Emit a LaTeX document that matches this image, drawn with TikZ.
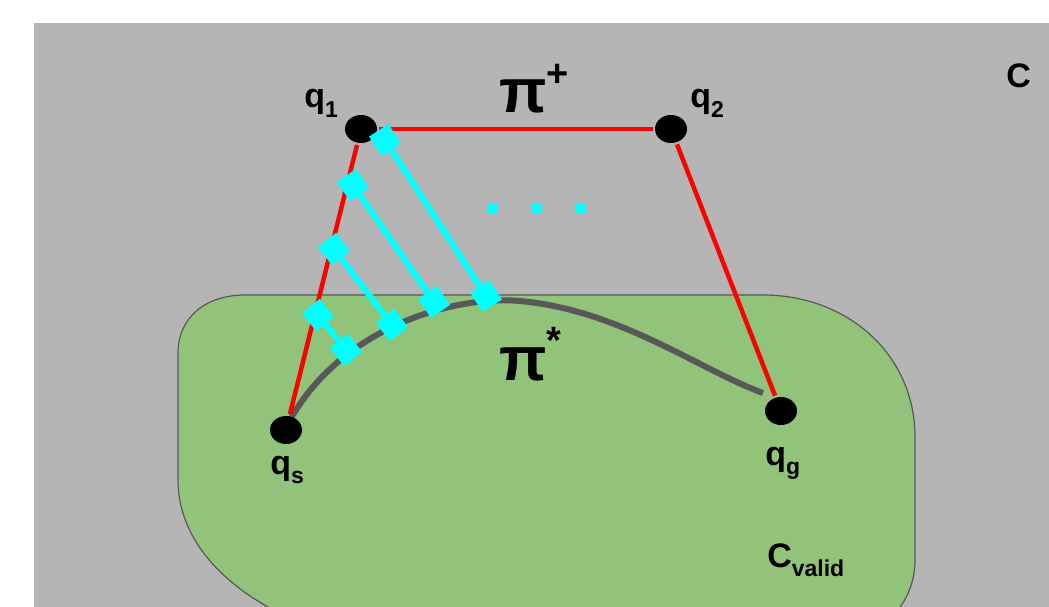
\documentclass[tikz,border=0pt]{standalone}
\usepackage{fontspec}
\setmainfont{Liberation Sans}
\usetikzlibrary{shapes.geometric}

\definecolor{bggray}{RGB}{181,181,181}
\definecolor{validgreen}{RGB}{146,195,123}
\definecolor{pathgray}{RGB}{88,88,88}
\definecolor{aqua}{RGB}{0,255,255}
\definecolor{plusred}{RGB}{255,0,0}
\newcommand{\lsub}[1]{\raisebox{-0.28em}{\fontsize{23}{23}\selectfont #1}}

\begin{document}
\begin{tikzpicture}[x=1pt,y=-1pt,line width=4.5pt,
  dot/.style={ellipse,fill=black,inner sep=0pt,minimum width=32pt,minimum height=28pt},
  sq/.style={rectangle,fill=aqua,inner sep=0pt,minimum size=23pt},
  link/.style={aqua,line width=6pt},
  lbl/.style={anchor=base west,inner sep=0pt,font=\bfseries\fontsize{34}{34}\selectfont},
  pilbl/.style={anchor=base west,inner sep=0pt,font=\bfseries\fontsize{62}{62}\selectfont}]
  \fill[white] (0,0) rectangle (1049,607);
  \useasboundingbox (0,0) rectangle (1049,607);
  \fill[bggray] (34,23) rectangle (1049,607);
  % valid region
  \begin{scope}
    \clip (34,23) rectangle (1049,607);
    \draw[fill=validgreen,draw=pathgray,line width=1.2pt] (178,353) .. controls (178,318) and (205,295) .. (245,295)
      -- (763,295) .. controls (848,295) and (915,355) .. (915,437) -- (915,560)
      .. controls (915,585) and (905,605) .. (885,625) -- (305,625)
      .. controls (225,592) and (178,540) .. (178,480) -- cycle;
  \end{scope}
  % optimal path
  \draw[pathgray,line width=6pt] (290,420) .. controls (340,330) and (450,295) .. (520,301)
    .. controls (620,310) and (700,370) .. (763,393);
  % configurations
  \node[dot] (q1) at (361,129) {};
  \node[dot] (q2) at (671,129) {};
  \node[dot] (qs) at (286,430) {};
  \node[dot] (qg) at (781,411) {};
  \draw[plusred] (q1) -- (q2);
  \draw[plusred] (q1) -- (qs);
  \draw[plusred] (q2) -- (qg);
  % distances between the paths
  \coordinate (a1) at (385,140); \coordinate (b1) at (486,296);
  \coordinate (a2) at (353,185); \coordinate (b2) at (434,302);
  \coordinate (a3) at (334,249); \coordinate (b3) at (392,325);
  \coordinate (a4) at (318,315); \coordinate (b4) at (346,350);
  \foreach \i in {1,...,4}
    \draw[link] (a\i) -- (b\i) node[sq,pos=0,sloped]{} node[sq,pos=1,sloped]{};
  \foreach \x [count=\k] in {492,537,581}
    \node[fill=aqua,inner sep=0pt,minimum size=10pt] (dot\k) at (\x,208) {};
  % labels
  \node[lbl] (lq1) at (302,108) {q\lsub{1}};
  \node[lbl] (lq2) at (688,108) {q\lsub{2}};
  \node[lbl] (lqs) at (268,474) {q\lsub{s}};
  \node[lbl] (lqg) at (763,465) {q\lsub{g}};
  \node[lbl] (lc) at (1004,88) {C};
  \node[lbl] (lcv) at (765,567) {C\lsub{valid}};
  \node[pilbl] (piplus) at (497,113) {π\raisebox{0.42em}{\fontsize{38}{38}\selectfont +}};
  \node[pilbl] (pistar) at (497,380) {π\raisebox{0.42em}{\fontsize{38}{38}\selectfont *}};
\end{tikzpicture}
\end{document}
